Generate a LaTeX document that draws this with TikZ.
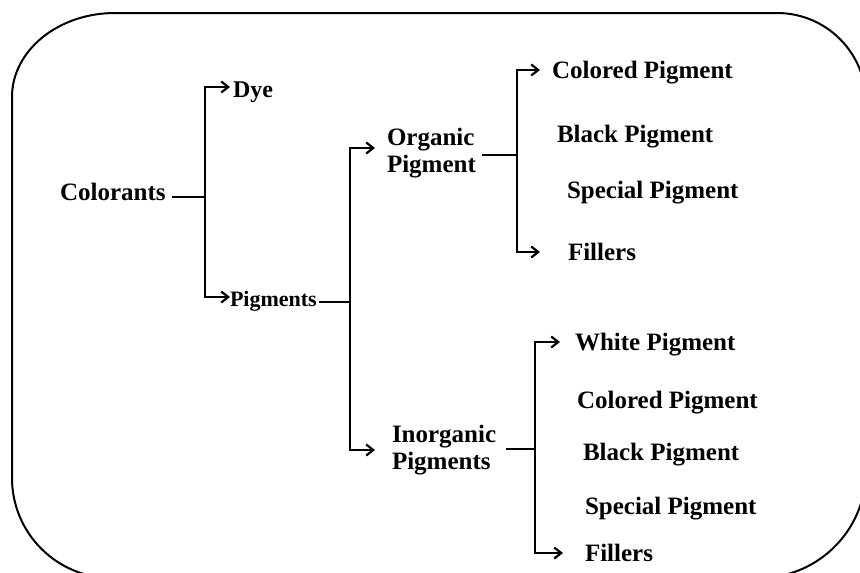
\documentclass[tikz,border=0pt]{standalone}
\usepackage{fontspec}
\setmainfont{Liberation Serif}
\usetikzlibrary{arrows.meta}
\begin{document}
\begin{tikzpicture}[x=1pt,y=-1pt,
  lbl/.style={inner sep=0pt, outer sep=0pt, anchor=base west, font=\fontsize{25}{27}\selectfont\bfseries},
  small/.style={font=\fontsize{22}{26}\selectfont\bfseries},
  conn/.style={line width=2.2pt, line join=miter},
  arr/.style={conn, -{Straight Barb[length=7pt,width=11pt]}},
  frame/.style={line width=2pt}]
\useasboundingbox (0,0) rectangle (860,573);
\clip (0,0) rectangle (860,573);
\fill[white] (0,0) rectangle (860,573);
% frame
\draw[frame] (12,97) .. controls (12,50.6) and (58.1,13) .. (115,13)
  -- (777,13) .. controls (826.2,13) and (866,52.8) .. (866,102)
  -- (866,471) .. controls (866,530.1) and (818.1,578) .. (759,578)
  -- (112,578) .. controls (56.8,578) and (12,533.2) .. (12,478) -- cycle;
% nodes
\node[lbl] (col) at (60,200) {Colorants};
\node[lbl,font=\fontsize{24}{27}\selectfont\bfseries] (dye) at (233,97) {Dye};
\node[lbl,small] (pig) at (230,306) {Pigments};
\node[lbl] (org) at (387,145) {\begin{tabular}[t]{@{}l@{}}Organic\\Pigment\end{tabular}};
\node[lbl] (inorg) at (392,442) {\begin{tabular}[t]{@{}l@{}}Inorganic\\Pigments\end{tabular}};
\node[lbl] (oc) at (552,78) {Colored Pigment};
\node[lbl] (ob) at (557,142) {Black Pigment};
\node[lbl] (os) at (567,198) {Special Pigment};
\node[lbl] (of) at (568,260) {Fillers};
\node[lbl] (iw) at (575,350) {White Pigment};
\node[lbl] (ic) at (577,408) {Colored Pigment};
\node[lbl] (ib) at (583,460) {Black Pigment};
\node[lbl] (is) at (585,514) {Special Pigment};
\node[lbl] (if) at (585,561) {Fillers};
% junctions
\coordinate (t1) at (205,197);
\coordinate (t2) at (350,302);
\coordinate (t3) at (517,155);
\coordinate (t4) at (535,449);
% connectors
\draw[conn] ([xshift=6pt,yshift=3pt]col.base east) -- (t1);
\draw[arr] (t1) |- ([xshift=-3pt,yshift=10pt]dye.base west);
\draw[arr] (t1) |- ([xshift=0pt,yshift=9pt]pig.base west);
\draw[conn] ([xshift=2pt,yshift=4pt]pig.base east) -- (t2);
\draw[arr] (t2) |- ([xshift=-12pt,yshift=-3pt]org.base west);
\draw[arr] (t2) |- ([xshift=-17pt,yshift=-8pt]inorg.base west);
\draw[conn] ([xshift=6pt,yshift=-10pt]org.base east) -- (t3);
\draw[arr] (t3) |- ([xshift=-12pt,yshift=8pt]oc.base west);
\draw[arr] (t3) |- ([xshift=-28pt,yshift=8pt]of.base west);
\draw[conn] ([xshift=10pt,yshift=-7pt]inorg.base east) -- (t4);
\draw[arr] (t4) |- ([xshift=-15pt,yshift=8pt]iw.base west);
\draw[arr] (t4) |- ([xshift=-22pt,yshift=8pt]if.base west);
\end{tikzpicture}
\end{document}
